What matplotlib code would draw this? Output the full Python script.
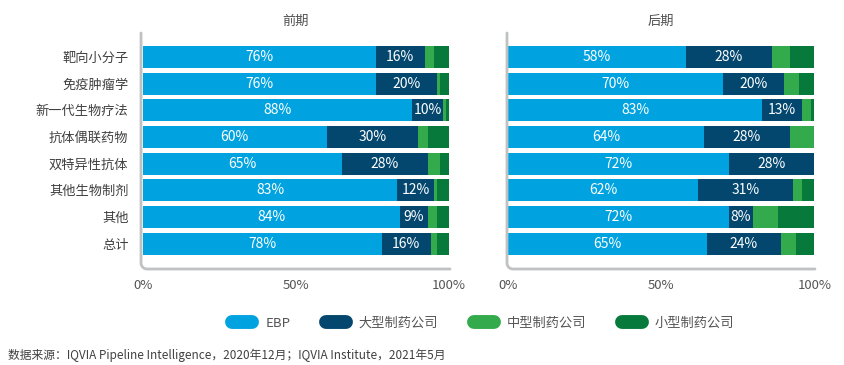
import matplotlib
matplotlib.use("Agg")
import matplotlib.pyplot as plt
from matplotlib.lines import Line2D
import numpy as np

plt.rcParams['font.family'] = ['Noto Sans CJK SC', 'DejaVu Sans']

categories = ["靶向小分子", "免疫肿瘤学", "新一代生物疗法", "抗体偶联药物",
              "双特异性抗体", "其他生物制剂", "其他", "总计"]
series_names = ["EBP", "大型制药公司", "中型制药公司", "小型制药公司"]
colors = ["#00a3e0", "#03476f", "#33aa4b", "#077a3b"]

# 前期
early_ebp = [76, 76, 88, 60, 65, 83, 84, 78]
early_big = [16, 20, 10, 30, 28, 12, 9, 16]
early_mid = [3, 1, 1, 3, 4, 1, 3, 2]
early_small = [5, 3, 1, 7, 3, 4, 4, 4]

# 后期
late_ebp = [58, 70, 83, 64, 72, 62, 72, 65]
late_big = [28, 20, 13, 28, 28, 31, 8, 24]
late_mid = [6, 5, 3, 8, 0, 3, 8, 5]
late_small = [8, 5, 1, 0, 0, 4, 12, 6]

panels = [
    ("前期", [early_ebp, early_big, early_mid, early_small], [0.1669, 0.263, 0.3657, 0.6466], (-0.65, 100.33)),
    ("后期", [late_ebp, late_big, late_mid, late_small], [0.6, 0.263, 0.3645, 0.6466], (-0.42, 100.2)),
]

fig = plt.figure(figsize=(8.45, 3.65), dpi=100)
y = np.arange(len(categories))
spine_color = "#bfc1c3"
text_color = "#404040"

for i, (title, data, pos, xl) in enumerate(panels):
    ax = fig.add_axes(pos)
    left = np.zeros(len(categories))
    for vals, col in zip(data, colors):
        vals = np.array(vals, dtype=float)
        ax.barh(y, vals, left=left, height=0.82, color=col, edgecolor="none")
        left += vals
    # labels for the two biggest segments
    for j in range(len(categories)):
        a, b = data[0][j], data[1][j]
        ax.text(a / 2, y[j], f"{a}%", ha="center", va="center", color="white", fontsize=10)
        ax.text(a + b / 2, y[j], f"{b}%", ha="center", va="center", color="white", fontsize=10)
    ax.set_xlim(*xl)
    ax.set_ylim(7.95, -0.9)
    ax.set_xticks([0, 50, 100])
    ax.set_xticklabels(["0%", "50%", "100%"], fontsize=9.5, color="#555555")
    ax.tick_params(axis="x", length=0, pad=7)
    if i == 0:
        ax.set_yticks(y)
        ax.set_yticklabels(categories, fontsize=9.5, color=text_color)
        ax.tick_params(axis="y", length=0, pad=9)
    else:
        ax.set_yticks([])
    for s in ax.spines.values():
        s.set_visible(False)
    # gray L-shaped frame with a rounded corner
    w_px = pos[2] * 845
    h_px = pos[3] * 365
    r = 6
    t = np.linspace(np.pi, 1.5 * np.pi, 12)
    arc_x = (r + r * np.cos(t)) / w_px
    arc_y = (r + r * np.sin(t)) / h_px
    fx = np.concatenate([[0], arc_x, [1]])
    fy = np.concatenate([[1], arc_y, [0]])
    ax.add_line(Line2D(fx, fy, transform=ax.transAxes, color=spine_color, lw=2,
                       solid_capstyle="round", clip_on=False))
    ax.set_title(title, fontsize=9.5, color="#505050", pad=6)

handles = [Line2D([0], [0], color=c, lw=10, solid_capstyle="round") for c in colors]
fig.legend(handles, series_names, loc="center", bbox_to_anchor=(0.572, 0.115), ncol=4,
           frameon=False, fontsize=9.5, handlelength=1.5, handletextpad=1.0,
           columnspacing=2.7, labelcolor="#555555")

fig.text(0.009, 0.027, "数据来源：IQVIA Pipeline Intelligence，2020年12月；IQVIA Institute，2021年5月",
         fontsize=8.5, color=text_color, ha="left", va="center")

fig.savefig("out.png", dpi=100)
